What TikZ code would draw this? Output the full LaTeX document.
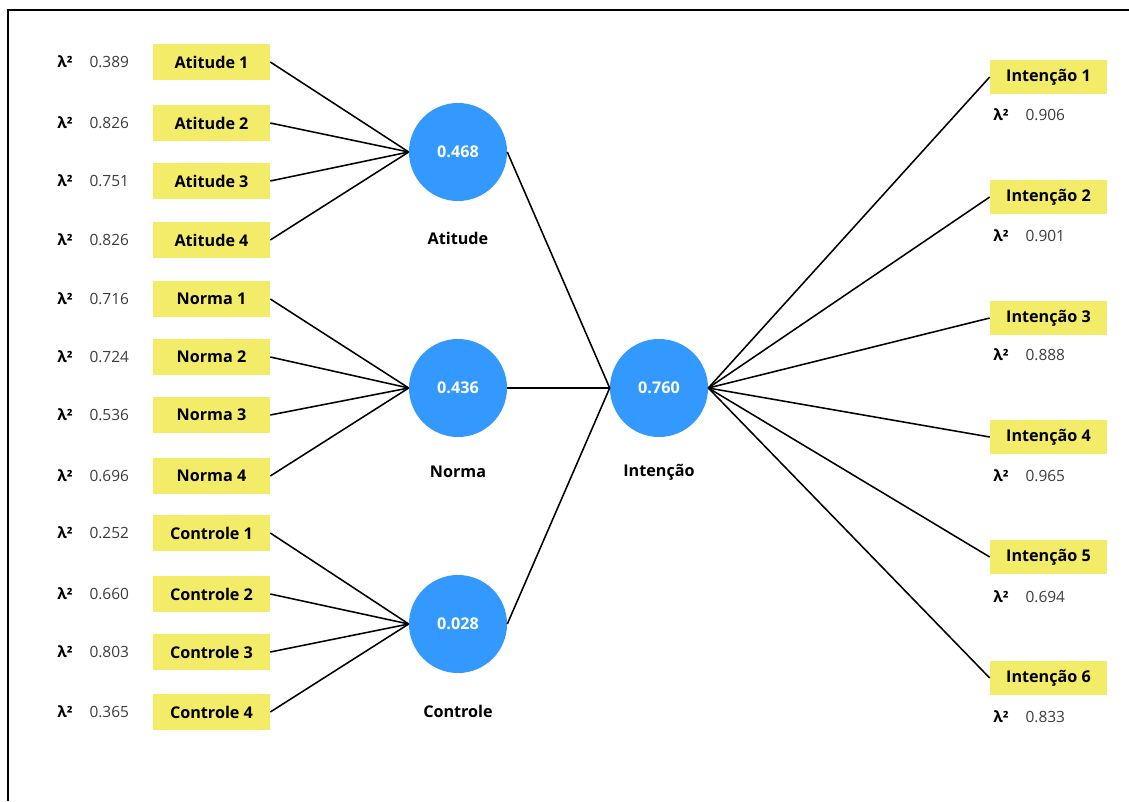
\documentclass[tikz,border=0pt]{standalone}
\usepackage{fontspec}
\setmainfont{Open Sans}
\usetikzlibrary{positioning}
\definecolor{itemyellow}{RGB}{242,236,104}
\definecolor{latentblue}{RGB}{51,153,255}
\definecolor{valgray}{RGB}{60,60,60}
\newcommand{\lamval}[1]{\textbf{λ²}\hspace{12pt}\textcolor{valgray}{#1}}

\begin{document}
\begin{tikzpicture}[x=0.025cm,y=-0.025cm,
  item/.style={fill=itemyellow,minimum width=2.925cm,minimum height=0.9cm,inner sep=0pt,font=\fontsize{11.5}{13}\selectfont\bfseries},
  ritem/.style={item,minimum height=0.85cm},
  latent/.style={circle,fill=latentblue,minimum size=2.45cm,inner sep=0pt,text=white,font=\fontsize{11.5}{13}\selectfont\bfseries},
  lname/.style={font=\fontsize{11.5}{13}\selectfont\bfseries},
  lam/.style={anchor=west,inner sep=0pt,font=\fontsize{11}{13}\selectfont},
  link/.style={line width=1.1pt}]
  \useasboundingbox (0,0) rectangle (1129,801);
  \draw[line width=1pt] (8,801) -- (8,10) -- (1129,10);

  \node[latent] (atitude) at (458,152) {0.468};
  \node[latent] (norma) at (458,388) {0.436};
  \node[latent] (controle) at (458,624) {0.028};
  \node[latent] (intencao) at (659,388) {0.760};
  \node[lname] (atitudename) at (458,238) {Atitude};
  \node[lname] (normaname) at (458,472) {Norma};
  \node[lname] (controlename) at (458,711) {Controle};
  \node[lname] (intencaoname) at (659,472) {Intenção};

  \node[item] (a1) at (211.5,62) {Atitude 1};
  \node[item] (a2) at (211.5,123) {Atitude 2};
  \node[item] (a3) at (211.5,181) {Atitude 3};
  \node[item] (a4) at (211.5,240) {Atitude 4};
  \node[item] (n1) at (211.5,299) {Norma 1};
  \node[item] (n2) at (211.5,357) {Norma 2};
  \node[item] (n3) at (211.5,415) {Norma 3};
  \node[item] (n4) at (211.5,476) {Norma 4};
  \node[item] (c1) at (211.5,533) {Controle 1};
  \node[item] (c2) at (211.5,594) {Controle 2};
  \node[item] (c3) at (211.5,652) {Controle 3};
  \node[item] (c4) at (211.5,712) {Controle 4};

  \node[lam] (la1) at (57,62) {\lamval{0.389}};
  \node[lam] (la2) at (57,123) {\lamval{0.826}};
  \node[lam] (la3) at (57,181) {\lamval{0.751}};
  \node[lam] (la4) at (57,240) {\lamval{0.826}};
  \node[lam] (ln1) at (57,299) {\lamval{0.716}};
  \node[lam] (ln2) at (57,357) {\lamval{0.724}};
  \node[lam] (ln3) at (57,415) {\lamval{0.536}};
  \node[lam] (ln4) at (57,476) {\lamval{0.696}};
  \node[lam] (lc1) at (57,533) {\lamval{0.252}};
  \node[lam] (lc2) at (57,594) {\lamval{0.660}};
  \node[lam] (lc3) at (57,652) {\lamval{0.803}};
  \node[lam] (lc4) at (57,712) {\lamval{0.365}};

  \node[ritem] (i1) at (1048.5,77) {Intenção 1};
  \node[ritem] (i2) at (1048.5,197) {Intenção 2};
  \node[ritem] (i3) at (1048.5,318) {Intenção 3};
  \node[ritem] (i4) at (1048.5,437) {Intenção 4};
  \node[ritem] (i5) at (1048.5,557) {Intenção 5};
  \node[ritem] (i6) at (1048.5,678) {Intenção 6};

  \node[lam] (li1) at (993,115) {\lamval{0.906}};
  \node[lam] (li2) at (993,236) {\lamval{0.901}};
  \node[lam] (li3) at (993,355) {\lamval{0.888}};
  \node[lam] (li4) at (993,476) {\lamval{0.965}};
  \node[lam] (li5) at (993,597) {\lamval{0.694}};
  \node[lam] (li6) at (993,717) {\lamval{0.833}};

  \draw[link] (a1.east) -- (atitude.west);
  \draw[link] (a2.east) -- (atitude.west);
  \draw[link] (a3.east) -- (atitude.west);
  \draw[link] (a4.east) -- (atitude.west);
  \draw[link] (n1.east) -- (norma.west);
  \draw[link] (n2.east) -- (norma.west);
  \draw[link] (n3.east) -- (norma.west);
  \draw[link] (n4.east) -- (norma.west);
  \draw[link] (c1.east) -- (controle.west);
  \draw[link] (c2.east) -- (controle.west);
  \draw[link] (c3.east) -- (controle.west);
  \draw[link] (c4.east) -- (controle.west);

  \draw[link] (atitude.east) -- (intencao.west);
  \draw[link] (norma.east) -- (intencao.west);
  \draw[link] (controle.east) -- (intencao.west);

  \draw[link] (intencao.east) -- (i1.west);
  \draw[link] (intencao.east) -- (i2.west);
  \draw[link] (intencao.east) -- (i3.west);
  \draw[link] (intencao.east) -- (i4.west);
  \draw[link] (intencao.east) -- (i5.west);
  \draw[link] (intencao.east) -- (i6.west);
\end{tikzpicture}
\end{document}
